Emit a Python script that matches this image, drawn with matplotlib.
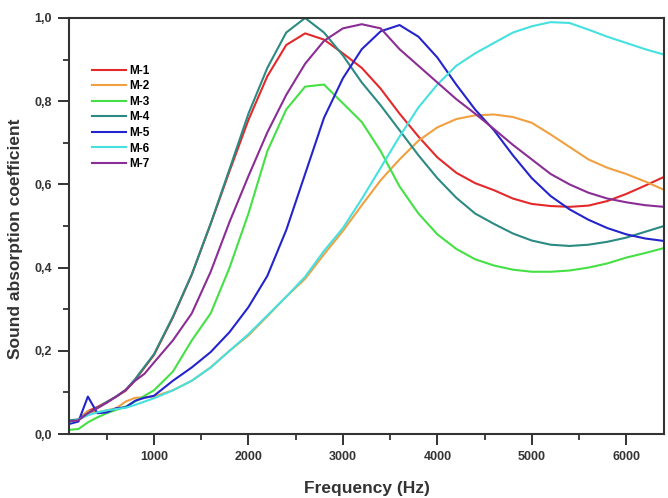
import numpy as np
import matplotlib
matplotlib.use('Agg')
import matplotlib.pyplot as plt
from matplotlib.ticker import MultipleLocator, FuncFormatter

plt.rcParams['font.family'] = ['Liberation Sans', 'DejaVu Sans']

freq = [100, 200, 300, 400, 500, 600, 700, 800, 900, 1000,
        1200, 1400, 1600, 1800, 2000, 2200, 2400, 2600, 2800, 3000,
        3200, 3400, 3600, 3800, 4000, 4200, 4400, 4600, 4800, 5000,
        5200, 5400, 5600, 5800, 6000, 6200, 6400]

m1 = [0.030, 0.035, 0.055, 0.065, 0.077, 0.090, 0.104, 0.130, 0.160, 0.190,
      0.280, 0.383, 0.505, 0.632, 0.755, 0.860, 0.935, 0.963, 0.948, 0.915,
      0.880, 0.830, 0.770, 0.715, 0.665, 0.628, 0.603, 0.586, 0.566, 0.553,
      0.548, 0.546, 0.549, 0.560, 0.577, 0.597, 0.618]
m2 = [0.028, 0.035, 0.055, 0.052, 0.057, 0.062, 0.078, 0.087, 0.088, 0.090,
      0.105, 0.128, 0.160, 0.200, 0.237, 0.283, 0.330, 0.373, 0.432, 0.488,
      0.550, 0.610, 0.660, 0.705, 0.737, 0.757, 0.766, 0.768, 0.762, 0.748,
      0.720, 0.690, 0.660, 0.640, 0.625, 0.607, 0.587]
m3 = [0.010, 0.012, 0.028, 0.040, 0.050, 0.058, 0.066, 0.078, 0.092, 0.105,
      0.150, 0.225, 0.290, 0.400, 0.530, 0.680, 0.780, 0.835, 0.840, 0.795,
      0.750, 0.680, 0.595, 0.530, 0.480, 0.445, 0.420, 0.405, 0.395, 0.390,
      0.390, 0.393, 0.400, 0.410, 0.424, 0.435, 0.447]
m4 = [0.033, 0.035, 0.050, 0.063, 0.077, 0.090, 0.106, 0.132, 0.162, 0.192,
      0.282, 0.384, 0.506, 0.637, 0.770, 0.880, 0.965, 1.000, 0.965, 0.910,
      0.845, 0.790, 0.730, 0.670, 0.615, 0.568, 0.530, 0.505, 0.482, 0.465,
      0.455, 0.452, 0.455, 0.462, 0.472, 0.486, 0.500]
m5 = [0.024, 0.030, 0.090, 0.050, 0.052, 0.062, 0.064, 0.080, 0.087, 0.092,
      0.128, 0.160, 0.197, 0.245, 0.305, 0.380, 0.490, 0.625, 0.760, 0.855,
      0.925, 0.968, 0.983, 0.955, 0.905, 0.840, 0.780, 0.730, 0.670, 0.615,
      0.572, 0.540, 0.515, 0.495, 0.480, 0.470, 0.464]
m6 = [0.028, 0.035, 0.045, 0.052, 0.057, 0.060, 0.063, 0.070, 0.078, 0.086,
      0.105, 0.128, 0.160, 0.200, 0.240, 0.285, 0.330, 0.378, 0.440, 0.495,
      0.565, 0.640, 0.715, 0.785, 0.840, 0.885, 0.915, 0.940, 0.965, 0.980,
      0.990, 0.988, 0.972, 0.955, 0.940, 0.925, 0.912]
m7 = [0.030, 0.033, 0.050, 0.062, 0.075, 0.090, 0.106, 0.128, 0.145, 0.172,
      0.225, 0.290, 0.390, 0.510, 0.620, 0.725, 0.815, 0.890, 0.945, 0.975,
      0.985, 0.975, 0.925, 0.885, 0.845, 0.805, 0.770, 0.733, 0.695, 0.660,
      0.625, 0.600, 0.580, 0.566, 0.557, 0.550, 0.546]

labels = ['M-1', 'M-2', 'M-3', 'M-4', 'M-5', 'M-6', 'M-7']
colors = ['#e4292b', '#f0a040', '#45e045', '#2b8a82', '#2424cc', '#45e0e0', '#8a2d94']
series = [m1, m2, m3, m4, m5, m6, m7]

fig = plt.figure(figsize=(6.68, 4.98), dpi=100)
ax = fig.add_axes([0.1033, 0.1285, 0.8907, 0.8354])

for vals, lab, col in zip(series, labels, colors):
    ax.plot(freq, vals, color=col, lw=1.5, label=lab)

ax.set_xlim(100, 6400)
ax.set_ylim(0, 1.0)
ax.xaxis.set_major_locator(MultipleLocator(1000))
ax.xaxis.set_minor_locator(MultipleLocator(500))
ax.yaxis.set_major_locator(MultipleLocator(0.2))
ax.yaxis.set_minor_locator(MultipleLocator(0.1))
ax.yaxis.set_major_formatter(FuncFormatter(lambda v, p: f'{v:.1f}'.replace('.', ',')))

ax.tick_params(which='major', direction='out', length=8, width=1.4, labelsize=9,
               labelcolor='#333333', color='#333333', pad=4.5)
ax.tick_params(which='minor', direction='out', length=4.5, width=1.3, color='#333333')
for lab in ax.get_xticklabels() + ax.get_yticklabels():
    lab.set_fontweight('bold')
for sp in ax.spines.values():
    sp.set_linewidth(1.5)
    sp.set_color('#333333')

ax.set_xlabel('Frequency (Hz)', fontsize=12.5, fontweight='bold', color='#333333')
ax.set_ylabel('Sound absorption coefficient', fontsize=12.5, fontweight='bold', color='#333333')
ax.xaxis.set_label_coords(0.5, -0.113)
ax.yaxis.set_label_coords(-0.077, 0.47)

leg = ax.legend(loc='upper left', bbox_to_anchor=(0.02, 0.913), frameon=False,
                handlelength=2.9, handletextpad=0.3, labelspacing=0.3,
                prop={'size': 8.5, 'weight': 'bold'})

fig.savefig('out.png', dpi=100)
